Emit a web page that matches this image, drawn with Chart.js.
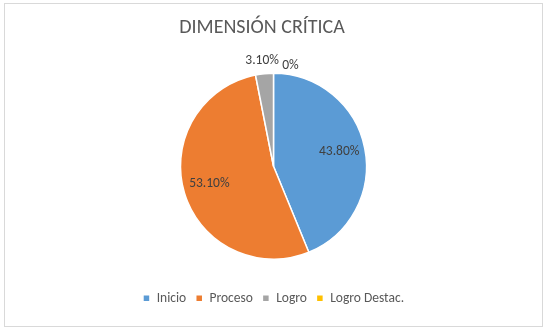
<!DOCTYPE html>
<html>
<head>
<meta charset="utf-8">
<script src="https://cdn.jsdelivr.net/npm/chart.js@4/dist/chart.umd.min.js"></script>
<style>
html,body{margin:0;padding:0;background:#fff;}
#wrap{position:absolute;left:0;top:0;width:546px;height:335px;}
</style>
</head>
<body>
<div id="wrap"><canvas id="c" width="546" height="335"></canvas></div>
<script>
const chartTitle = "DIMENSIÓN CRÍTICA";
const categories = ["Inicio", "Proceso", "Logro", "Logro Destac."];
const values = [43.8, 53.1, 3.1, 0];
const valueLabels = ["43.80%", "53.10%", "3.10%", "0%"];
const colors = ["#5B9BD5", "#ED7D31", "#A5A5A5", "#FFC000"];

const FONT = "Carlito, Lato, 'Liberation Sans', sans-serif";

const framePlugin = {
  id: 'frame',
  beforeDraw(chart) {
    const ctx = chart.ctx;
    ctx.save();
    ctx.fillStyle = '#fff';
    ctx.fillRect(0, 0, chart.width, chart.height);
    ctx.strokeStyle = '#d9d9d9';
    ctx.lineWidth = 1;
    ctx.strokeRect(4.5, 3.5, 538, 323);
    ctx.restore();
  },
  afterDraw(chart) {
    const ctx = chart.ctx;
    ctx.save();
    ctx.font = "20px " + FONT;
    ctx.fillStyle = '#595959';
    ctx.textAlign = 'center';
    ctx.textBaseline = 'middle';
    ctx.fillText(chartTitle, 262, 28);
    ctx.restore();
  }
};

// per-label nudges for outside labels (px)
const outsideNudge = [[0,0],[0,0],[-1,1],[17,6]];

const labelPlugin = {
  id: 'sliceLabels',
  afterDatasetsDraw(chart) {
    const ctx = chart.ctx;
    const meta = chart.getDatasetMeta(0);
    ctx.save();
    ctx.font = "13.5px " + FONT;
    ctx.fillStyle = '#404040';
    ctx.textAlign = 'center';
    ctx.textBaseline = 'middle';
    meta.data.forEach((arc, i) => {
      const p = arc.getProps(['x','y','startAngle','endAngle','outerRadius'], true);
      const mid = (p.startAngle + p.endAngle) / 2;
      let r, x, y;
      if (values[i] >= 10) {
        r = p.outerRadius * 0.72;
        x = p.x + Math.cos(mid) * r;
        y = p.y + Math.sin(mid) * r - 2;
      } else {
        r = p.outerRadius + 14;
        x = p.x + Math.cos(mid) * r + outsideNudge[i][0];
        y = p.y + Math.sin(mid) * r + outsideNudge[i][1];
      }
      ctx.fillText(valueLabels[i], x, y);
    });
    ctx.restore();
  }
};

new Chart(document.getElementById('c'), {
  type: 'pie',
  data: {
    labels: categories,
    datasets: [{
      data: values,
      backgroundColor: colors,
      borderColor: '#ffffff',
      borderWidth: 1.5,
      radius: 93
    }]
  },
  options: {
    responsive: false,
    animation: false,
    layout: { padding: { top: 50.5, bottom: 20, left: 1, right: 0 } },
    plugins: {
      title: { display: false },
      legend: {
        display: true,
        position: 'bottom',
        labels: {
          color: '#595959',
          font: { family: FONT, size: 13.5 },
          boxWidth: 7,
          boxHeight: 7,
          padding: 9.5
        }
      },
      tooltip: { enabled: false }
    }
  },
  plugins: [framePlugin, labelPlugin]
});
</script>
</body>
</html>
